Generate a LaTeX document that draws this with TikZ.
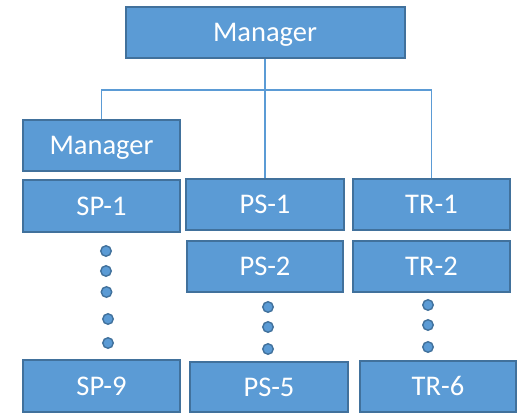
\documentclass[tikz,border=0pt]{standalone}
\usepackage{fontspec}
\setmainfont{Carlito}
\definecolor{boxfill}{HTML}{5B9BD5}
\definecolor{boxline}{HTML}{41719C}
\tikzset{
  orgbox/.style={draw=boxline, fill=boxfill, line width=2pt, rectangle,
    inner sep=0pt, font=\fontsize{28.5}{30}\selectfont, text=white,
    text height=18pt, text depth=0pt},
  conn/.style={draw=boxfill, line width=1.2pt},
  dot/.style={circle, draw=boxline, fill=boxfill, line width=1.4pt,
    minimum size=10.5pt, inner sep=0pt}
}
\begin{document}
\begin{tikzpicture}[x=1pt, y=-1pt]
  \useasboundingbox (0,0) rectangle (529,414);

  % boxes
  \node[orgbox, minimum width=279pt, minimum height=51pt] (top) at (265,32.5) {Manager};
  \node[orgbox, minimum width=157pt, minimum height=51pt] (mgr) at (101.5,145.5) {Manager};
  \node[orgbox, minimum width=157pt, minimum height=52pt] (sp1) at (101.5,206) {SP-1};
  \node[orgbox, minimum width=158pt, minimum height=51pt] (ps1) at (265,204.5) {PS-1};
  \node[orgbox, minimum width=157pt, minimum height=51pt] (tr1) at (431.5,204.5) {TR-1};
  \node[orgbox, minimum width=156pt, minimum height=51pt] (ps2) at (265,266.5) {PS-2};
  \node[orgbox, minimum width=157pt, minimum height=51pt] (tr2) at (431.5,266.5) {TR-2};
  \node[orgbox, minimum width=157pt, minimum height=52pt] (sp9) at (101.5,386) {SP-9};
  \node[orgbox, minimum width=158pt, minimum height=50pt] (ps5) at (269,387) {PS-5};
  \node[orgbox, minimum width=156pt, minimum height=51pt] (tr6) at (438,386.5) {TR-6};

  % connectors
  \coordinate (j) at (265,90);
  \draw[conn] (top.south) -- (j);
  \draw[conn] (j) -| (mgr.north);
  \draw[conn] (j) -| (tr1.north);
  \draw[conn] (j) -- (ps1.north);

  % ellipsis dots
  \node[dot] (sa) at (106,251) {};
  \node[dot] (sb) at (106,271) {};
  \node[dot] (sc) at (106.5,292) {};
  \node[dot] (sd) at (108,319) {};
  \node[dot] (se) at (108,343) {};
  \node[dot] (pa) at (268,307) {};
  \node[dot] (pb) at (268,327) {};
  \node[dot] (pc) at (268,349) {};
  \node[dot] (ta) at (428,305) {};
  \node[dot] (tb) at (428,325) {};
  \node[dot] (tc) at (428,347) {};
\end{tikzpicture}
\end{document}
